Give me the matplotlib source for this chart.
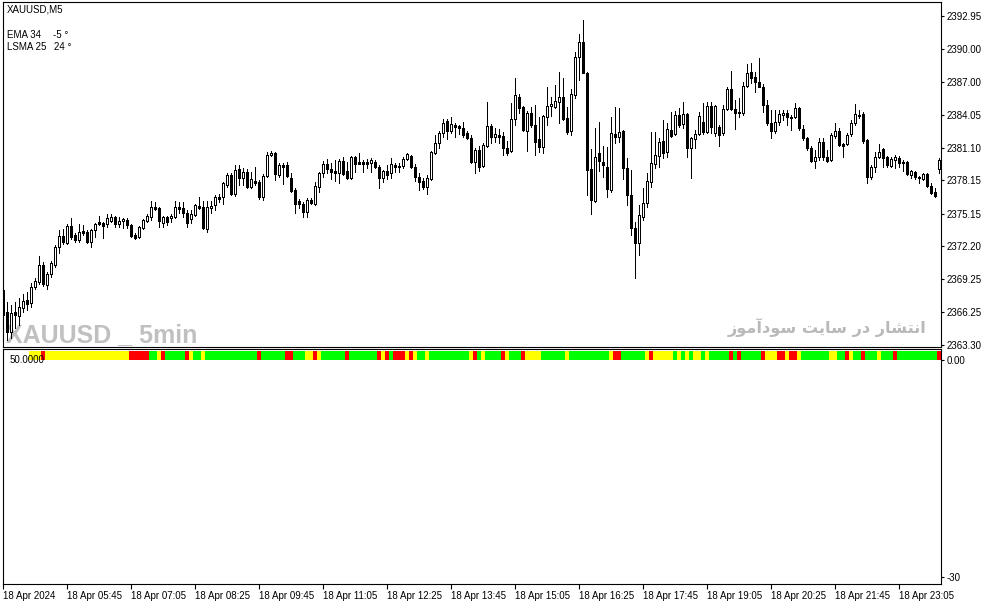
import matplotlib
matplotlib.use("Agg")
import matplotlib.pyplot as plt
import numpy as np

W, H = 987, 605

# ---------------- data (XAUUSD M5, 18 Apr 2024, 04:25 .. 23:55) ----------------
opens = [
    2368.26, 2366.28, 2364.48, 2366.28, 2365.92, 2366.64, 2367.36, 2367.09, 2368.53, 2368.98,
    2370.51, 2368.71, 2369.70, 2370.51, 2372.14, 2373.13, 2372.50, 2374.03, 2373.22, 2372.77,
    2373.58, 2373.49, 2372.59, 2373.67, 2374.39, 2374.30, 2374.21, 2374.48, 2374.84, 2374.21,
    2374.48, 2374.57, 2374.12, 2373.22, 2373.04, 2373.85, 2374.48, 2374.84, 2375.74, 2375.65,
    2374.30, 2374.84, 2374.75, 2374.84, 2375.74, 2375.65, 2375.20, 2374.66, 2375.02, 2375.83,
    2375.74, 2373.76, 2375.65, 2375.92, 2376.64, 2376.64, 2377.72, 2378.62, 2376.91, 2379.16,
    2378.35, 2378.89, 2377.54, 2378.08, 2377.99, 2376.64, 2378.53, 2380.42, 2380.61, 2378.62,
    2379.52, 2379.52, 2378.35, 2377.27, 2376.28, 2376.01, 2375.29, 2376.37, 2376.01, 2377.54,
    2378.80, 2379.61, 2379.16, 2378.98, 2378.80, 2379.88, 2378.98, 2378.35, 2380.24, 2379.79,
    2379.79, 2379.79, 2379.70, 2379.79, 2379.34, 2378.35, 2378.98, 2378.80, 2379.52, 2379.34,
    2379.43, 2380.06, 2380.33, 2379.34, 2378.44, 2378.08, 2377.54, 2378.26, 2380.61, 2381.51,
    2382.41, 2383.49, 2382.59, 2383.13, 2383.04, 2382.86, 2382.41, 2381.96, 2379.79, 2380.88,
    2379.43, 2381.24, 2383.04, 2382.05, 2382.23, 2382.14, 2381.06, 2380.79, 2383.67, 2385.65,
    2384.75, 2382.59, 2384.21, 2383.13, 2381.87, 2381.15, 2383.85, 2384.84, 2384.75, 2385.20,
    2385.65, 2383.76, 2382.59, 2385.83, 2389.25, 2390.61, 2387.81, 2379.16, 2376.28, 2380.61,
    2379.79, 2379.34, 2377.27, 2382.32, 2382.05, 2382.59, 2379.25, 2376.82, 2373.85, 2372.50,
    2374.84, 2376.10, 2377.99, 2379.61, 2380.33, 2381.69, 2380.70, 2382.68, 2382.32, 2384.03,
    2383.22, 2384.12, 2381.06, 2381.87, 2382.32, 2383.40, 2382.50, 2384.84, 2382.41, 2382.95,
    2382.41, 2384.57, 2386.37, 2384.57, 2384.21, 2384.21, 2386.64, 2387.90, 2387.45, 2387.00,
    2386.55, 2384.93, 2383.31, 2382.59, 2383.40, 2384.03, 2384.21, 2383.76, 2383.85, 2384.66,
    2382.77, 2381.96, 2381.06, 2379.88, 2380.24, 2381.60, 2380.24, 2379.97, 2382.14, 2382.59,
    2381.42, 2381.42, 2382.32, 2383.31, 2383.94, 2384.12, 2381.78, 2378.44, 2379.34, 2380.24,
    2380.97, 2380.24, 2379.43, 2379.97, 2380.15, 2379.79, 2379.79, 2378.62, 2378.89, 2378.44,
    2378.26, 2378.71, 2377.63, 2377.09, 2379.16,
]
highs = [
    2368.44, 2367.18, 2366.91, 2367.18, 2367.54, 2367.90, 2368.08, 2368.89, 2369.34, 2371.32,
    2370.78, 2369.88, 2370.87, 2372.32, 2373.67, 2373.76, 2374.21, 2374.75, 2373.40, 2374.21,
    2374.12, 2373.67, 2373.76, 2374.30, 2374.93, 2374.39, 2375.11, 2375.11, 2374.93, 2374.84,
    2374.75, 2374.75, 2374.21, 2373.40, 2374.03, 2374.66, 2375.11, 2376.28, 2376.19, 2375.74,
    2374.93, 2374.93, 2375.11, 2376.28, 2376.19, 2376.19, 2375.47, 2375.47, 2376.01, 2376.64,
    2376.28, 2376.28, 2376.28, 2376.82, 2376.91, 2377.99, 2378.80, 2378.80, 2379.52, 2379.52,
    2379.25, 2379.16, 2378.89, 2379.34, 2378.17, 2378.71, 2380.70, 2380.79, 2380.70, 2379.70,
    2379.70, 2379.79, 2378.80, 2377.45, 2376.46, 2376.19, 2376.55, 2376.55, 2377.99, 2378.89,
    2379.88, 2380.06, 2379.70, 2379.97, 2380.06, 2380.24, 2379.79, 2380.33, 2380.33, 2380.61,
    2379.97, 2380.06, 2380.15, 2379.97, 2379.52, 2379.07, 2379.52, 2380.15, 2379.70, 2379.70,
    2380.24, 2380.61, 2380.42, 2379.61, 2378.80, 2378.35, 2378.62, 2380.79, 2382.23, 2382.59,
    2383.67, 2383.67, 2383.85, 2383.31, 2383.13, 2383.40, 2382.59, 2382.23, 2381.06, 2381.24,
    2381.51, 2385.20, 2383.22, 2382.86, 2382.77, 2382.50, 2381.69, 2385.11, 2387.36, 2385.92,
    2384.84, 2384.39, 2384.75, 2384.93, 2383.85, 2384.03, 2386.55, 2385.65, 2386.73, 2387.90,
    2387.36, 2384.75, 2386.37, 2389.71, 2391.33, 2392.59, 2387.90, 2380.97, 2382.86, 2383.40,
    2381.24, 2381.15, 2383.85, 2384.75, 2384.66, 2382.68, 2380.15, 2379.07, 2374.39, 2375.92,
    2377.45, 2378.80, 2382.50, 2382.50, 2381.96, 2383.58, 2383.31, 2384.30, 2384.39, 2384.66,
    2385.20, 2384.21, 2382.05, 2382.68, 2384.30, 2385.11, 2385.20, 2385.20, 2384.93, 2383.13,
    2384.93, 2386.55, 2387.99, 2385.38, 2385.56, 2387.00, 2388.62, 2388.71, 2387.90, 2389.16,
    2386.82, 2385.38, 2384.48, 2384.48, 2384.48, 2384.48, 2384.48, 2384.03, 2385.11, 2384.75,
    2383.13, 2382.05, 2381.24, 2380.88, 2381.96, 2381.96, 2380.88, 2382.41, 2383.31, 2382.86,
    2381.51, 2382.41, 2383.58, 2385.02, 2384.48, 2384.30, 2381.87, 2379.52, 2380.70, 2381.42,
    2381.06, 2380.33, 2380.24, 2380.42, 2380.33, 2379.97, 2379.88, 2379.07, 2378.98, 2378.53,
    2378.80, 2378.80, 2377.90, 2377.45, 2380.15,
]
lows = [
    2365.56, 2363.76, 2363.94, 2364.84, 2365.11, 2366.28, 2366.46, 2366.73, 2368.35, 2368.80,
    2368.62, 2368.35, 2369.43, 2370.33, 2371.59, 2372.41, 2372.41, 2372.86, 2372.59, 2372.59,
    2373.22, 2372.50, 2372.14, 2373.04, 2374.12, 2372.95, 2373.94, 2374.39, 2373.94, 2373.94,
    2373.85, 2373.85, 2373.04, 2372.86, 2372.95, 2373.76, 2374.39, 2374.57, 2375.47, 2373.94,
    2373.94, 2374.12, 2374.39, 2374.75, 2375.20, 2374.84, 2373.94, 2374.30, 2374.93, 2375.56,
    2373.76, 2373.49, 2375.20, 2375.47, 2376.19, 2376.01, 2377.54, 2376.82, 2376.73, 2377.72,
    2377.72, 2377.45, 2377.45, 2377.72, 2376.46, 2376.37, 2378.44, 2380.33, 2378.17, 2378.44,
    2377.81, 2378.44, 2377.09, 2375.20, 2375.65, 2374.84, 2374.84, 2376.01, 2375.92, 2377.09,
    2378.44, 2378.80, 2378.26, 2378.08, 2377.90, 2378.62, 2378.26, 2378.26, 2378.89, 2379.61,
    2378.89, 2379.25, 2378.89, 2379.25, 2377.45, 2377.99, 2378.26, 2378.35, 2378.89, 2378.89,
    2379.25, 2379.97, 2379.25, 2378.08, 2377.27, 2377.36, 2376.91, 2378.17, 2380.52, 2381.06,
    2382.05, 2381.87, 2382.41, 2382.05, 2382.32, 2382.05, 2381.87, 2379.70, 2378.80, 2378.98,
    2379.34, 2381.15, 2381.51, 2381.60, 2381.51, 2380.42, 2380.42, 2380.70, 2383.13, 2384.21,
    2382.59, 2380.79, 2382.95, 2380.42, 2380.70, 2380.61, 2383.13, 2383.94, 2384.66, 2383.31,
    2383.58, 2382.32, 2382.23, 2385.56, 2387.18, 2387.81, 2376.82, 2375.11, 2376.19, 2378.98,
    2378.44, 2376.64, 2377.09, 2381.51, 2381.60, 2378.26, 2375.92, 2373.22, 2369.34, 2371.41,
    2374.57, 2375.74, 2377.54, 2379.25, 2379.34, 2380.15, 2380.24, 2382.05, 2382.23, 2382.95,
    2382.86, 2380.24, 2378.35, 2381.06, 2382.23, 2382.32, 2382.41, 2382.41, 2382.14, 2381.24,
    2382.23, 2384.48, 2384.48, 2382.77, 2383.85, 2384.03, 2386.55, 2386.91, 2386.10, 2386.55,
    2384.30, 2383.13, 2381.96, 2382.41, 2383.13, 2383.58, 2383.13, 2382.68, 2383.76, 2382.68,
    2381.78, 2380.88, 2379.79, 2379.25, 2379.97, 2379.97, 2379.79, 2379.88, 2381.96, 2381.24,
    2380.24, 2381.33, 2382.14, 2383.13, 2383.76, 2381.51, 2377.90, 2378.26, 2378.89, 2380.15,
    2379.34, 2379.34, 2379.34, 2379.25, 2379.34, 2378.98, 2378.62, 2378.35, 2378.26, 2377.90,
    2378.17, 2377.54, 2376.91, 2376.64, 2378.80,
]
closes = [
    2366.01, 2364.48, 2366.19, 2366.01, 2366.73, 2367.27, 2367.00, 2368.53, 2369.07, 2370.51,
    2368.80, 2369.70, 2370.69, 2372.14, 2373.13, 2372.59, 2374.03, 2373.04, 2372.77, 2373.49,
    2373.40, 2372.59, 2373.67, 2374.21, 2374.21, 2374.03, 2374.75, 2374.84, 2374.21, 2374.48,
    2374.66, 2374.12, 2373.13, 2372.95, 2373.94, 2374.57, 2374.93, 2375.74, 2375.56, 2374.48,
    2374.84, 2374.39, 2374.93, 2375.74, 2375.56, 2375.20, 2374.30, 2375.11, 2375.92, 2375.65,
    2373.85, 2375.74, 2375.83, 2376.64, 2376.46, 2377.90, 2378.62, 2376.91, 2379.07, 2378.35,
    2378.89, 2377.54, 2378.26, 2377.90, 2376.64, 2378.53, 2380.42, 2380.61, 2378.71, 2379.52,
    2379.34, 2378.53, 2377.18, 2376.01, 2376.01, 2375.29, 2376.37, 2376.10, 2377.63, 2378.80,
    2379.61, 2379.16, 2378.89, 2378.80, 2379.88, 2378.71, 2378.35, 2380.24, 2379.61, 2379.65,
    2379.61, 2379.61, 2379.97, 2379.34, 2378.35, 2378.98, 2378.62, 2379.61, 2379.34, 2379.43,
    2380.06, 2380.52, 2379.34, 2378.44, 2377.99, 2377.54, 2378.35, 2380.70, 2381.51, 2382.41,
    2383.31, 2382.59, 2383.22, 2382.95, 2382.86, 2382.23, 2381.96, 2379.79, 2380.88, 2379.34,
    2381.33, 2383.04, 2382.05, 2382.32, 2382.05, 2381.06, 2380.61, 2383.67, 2385.83, 2384.66,
    2382.68, 2384.21, 2383.13, 2381.60, 2381.15, 2383.94, 2384.84, 2385.02, 2385.29, 2385.65,
    2383.67, 2382.50, 2385.92, 2389.25, 2390.61, 2387.81, 2379.07, 2376.37, 2380.24, 2379.88,
    2379.52, 2377.36, 2382.41, 2382.05, 2382.50, 2379.25, 2376.82, 2373.85, 2372.50, 2375.02,
    2376.10, 2378.08, 2379.70, 2380.42, 2381.60, 2380.61, 2382.77, 2382.14, 2384.03, 2383.13,
    2384.12, 2381.06, 2381.96, 2382.32, 2383.94, 2382.50, 2384.84, 2382.95, 2384.84, 2382.23,
    2384.57, 2386.37, 2384.57, 2384.21, 2384.30, 2386.64, 2387.81, 2387.36, 2387.00, 2386.55,
    2384.93, 2383.31, 2382.59, 2383.40, 2384.12, 2384.21, 2383.85, 2383.85, 2384.66, 2382.86,
    2381.96, 2381.06, 2379.88, 2380.24, 2381.60, 2380.24, 2379.88, 2382.23, 2382.59, 2381.33,
    2381.24, 2382.23, 2383.31, 2384.12, 2384.03, 2381.69, 2378.44, 2379.34, 2380.24, 2380.70,
    2380.15, 2379.52, 2380.06, 2380.24, 2379.70, 2379.70, 2378.71, 2378.98, 2378.44, 2378.35,
    2378.71, 2377.63, 2377.00, 2376.73, 2379.97,
]

# indicator strip state per bar, as runs: n = none, y = yellow, r = red, g = green
strip_runs = [
    ("n", 7), ("y", 3), ("r", 1), ("y", 21), ("r", 5), ("g", 2), ("y", 1), ("r", 1),
    ("g", 5), ("r", 1), ("y", 1), ("g", 2), ("y", 1), ("g", 13), ("r", 1), ("g", 6),
    ("r", 2), ("g", 3), ("y", 2), ("r", 1), ("y", 1), ("g", 6), ("r", 1), ("g", 7),
    ("r", 1), ("y", 1), ("r", 1), ("g", 1), ("r", 3), ("y", 1), ("r", 1), ("y", 1),
    ("g", 2), ("y", 1), ("g", 10), ("y", 1), ("r", 1), ("g", 1), ("y", 1), ("g", 4),
    ("r", 1), ("y", 1), ("g", 3), ("r", 1), ("y", 4), ("g", 6), ("y", 1), ("g", 10),
    ("y", 1), ("r", 2), ("g", 6), ("y", 1), ("r", 1), ("y", 5), ("g", 1), ("y", 1),
    ("g", 1), ("y", 1), ("g", 1), ("y", 2), ("g", 1), ("y", 1), ("g", 5), ("r", 1),
    ("g", 1), ("r", 1), ("g", 5), ("r", 1), ("y", 3), ("r", 2), ("y", 1), ("r", 2),
    ("y", 1), ("g", 7), ("y", 2), ("g", 2), ("r", 1), ("y", 1), ("g", 2), ("r", 1),
    ("g", 3), ("y", 1), ("g", 3), ("r", 1), ("g", 10), ("r", 1),
]

price_ticks = [2392.95, 2390.00, 2387.00, 2384.05, 2381.10, 2378.15,
               2375.15, 2372.20, 2369.25, 2366.25, 2363.30]
time_tick_bars = [0, 16, 32, 48, 64, 80, 96, 112, 128, 144, 160, 176, 192, 208, 224]
time_tick_labels = ["18 Apr 2024", "18 Apr 05:45", "18 Apr 07:05", "18 Apr 08:25",
                    "18 Apr 09:45", "18 Apr 11:05", "18 Apr 12:25", "18 Apr 13:45",
                    "18 Apr 15:05", "18 Apr 16:25", "18 Apr 17:45", "18 Apr 19:05",
                    "18 Apr 20:25", "18 Apr 21:45", "18 Apr 23:05"]
osc_ticks = [0, -30]
osc_tick_labels = ["0.00", "-30"]

# ---------------- figure ----------------
LF = "Liberation Sans"
plt.rcParams["font.family"] = [LF, "DejaVu Sans"]

fig = plt.figure(figsize=(W / 100, H / 100), dpi=100)
fig.patch.set_facecolor("white")

def fx(x):
    return x / W

def fy(y):
    return 1 - y / H

ax = fig.add_axes([fx(3), fy(346.5), (941.5 - 3) / W, (346.5 - 2) / H])
ax2 = fig.add_axes([fx(3), fy(584), (941.5 - 3) / W, (584 - 348.5) / H])

n = len(closes)
xs = np.arange(n)
o = np.array(opens); h = np.array(highs); l = np.array(lows); c = np.array(closes)
up = c >= o

xmax = 234.63
for a in (ax, ax2):
    a.set_xlim(0, xmax)
    for s in a.spines.values():
        s.set_linewidth(0.8)
        s.set_color("black")
    a.set_facecolor("white")

ax.set_ylim(2363.17, 2394.21)
ax2.set_ylim(-30.97, 1.52)

# candles
LW = 0.6
ax.vlines(xs, l, h, color="black", linewidth=LW, zorder=2, antialiased=False)
bb = np.minimum(o, c)
bh = np.maximum(np.abs(c - o), 0.015)
ax.bar(xs[up], bh[up], bottom=bb[up], width=0.5, facecolor="white",
       edgecolor="black", linewidth=LW, zorder=3, antialiased=False)
ax.bar(xs[~up], bh[~up], bottom=bb[~up], width=0.5, facecolor="black",
       edgecolor="black", linewidth=LW, zorder=3, antialiased=False)

# ticks
ax.yaxis.tick_right()
ax.set_yticks(price_ticks)
ax.set_yticklabels([f"{v:.2f}" for v in price_ticks])
ax.set_xticks([])
ax.tick_params(axis="y", direction="out", length=2.5, width=0.8, pad=1.5,
               labelsize=7, colors="black")

ax2.yaxis.tick_right()
ax2.set_yticks(osc_ticks)
ax2.set_yticklabels(osc_tick_labels)
ax2.tick_params(axis="y", direction="out", length=2.5, width=0.8, pad=1.5,
                labelsize=7, colors="black")
ax2.set_xticks(time_tick_bars)
ax2.set_xticklabels(time_tick_labels)
ax2.tick_params(axis="x", direction="out", length=3.5, width=0.8, pad=1.5,
                labelsize=7, colors="black")
for t in ax2.get_xticklabels():
    t.set_ha("left")

# indicator strip
cmap = {"y": "#FFFF00", "r": "#FF0000", "g": "#00FF00"}
states = []
for code, cnt in strip_runs:
    states += [code] * cnt
states = (states + ["g"] * n)[:n]
sx = [i for i in range(n) if states[i] != "n"]
scol = [cmap[states[i]] for i in sx]
ax2.bar(sx, 1.24, bottom=0, width=1.0, color=scol, linewidth=0,
        antialiased=False, zorder=2)

# texts
fig.text(fx(7), fy(10), "XAUUSD,M5", fontsize=7, va="center", ha="left", color="black")
fig.text(fx(7), fy(35), "EMA 34", fontsize=7, va="center", ha="left", color="black")
fig.text(fx(53), fy(35), "-5 °", fontsize=7, va="center", ha="left", color="black")
fig.text(fx(7), fy(47), "LSMA 25", fontsize=7, va="center", ha="left", color="black")
fig.text(fx(54), fy(47), "24 °", fontsize=7, va="center", ha="left", color="black")
fig.text(fx(10), fy(360), "50.0000", fontsize=7, va="center", ha="left", color="black")

ax.text(fx(6), fy(342), "XAUUSD _ 5min", transform=fig.transFigure,
        fontsize=18, fontweight="bold", fontstretch="condensed", color="#c0c0c0",
        ha="left", va="baseline",
        family=["Liberation Sans Narrow", "DejaVu Sans Condensed", "Liberation Sans"],
        zorder=1)

persian = ("\ufeaf\ufeee\ufee3\ufe81\ufea9\ufeee\ufeb3 \ufe96\ufef3\ufe8e\ufeb3 "
           "\ufead\ufea9 \ufead\ufe8e\ufeb8\ufe98\ufee7\ufe8d")
ax.text(fx(926), fy(333), persian, transform=fig.transFigure,
        fontsize=11.6, fontweight="bold", color="#b9b9b9", ha="right", va="baseline",
        family=["DejaVu Sans"], zorder=1)

fig.savefig("out.png", dpi=100, facecolor="white")
